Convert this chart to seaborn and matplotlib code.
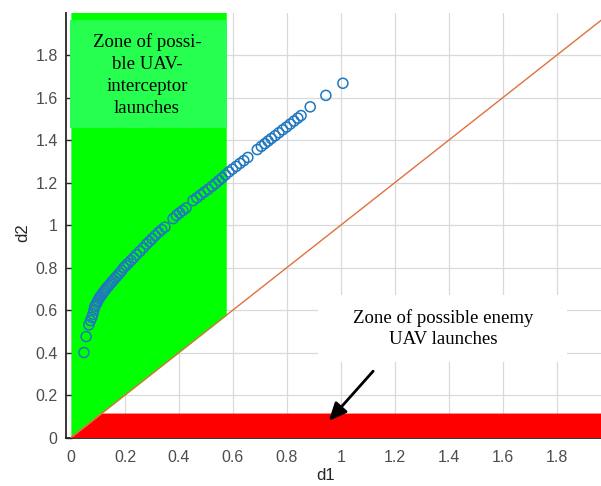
import matplotlib
matplotlib.use("Agg")
import matplotlib.pyplot as plt
from matplotlib.patches import Rectangle
import seaborn as sns
import pandas as pd

# ---- data ----
d1_pts = [0.048, 0.056, 0.066, 0.072, 0.077, 0.081, 0.085, 0.088, 0.092, 0.096,
          0.100, 0.104, 0.108, 0.113, 0.118, 0.123, 0.128, 0.134, 0.140, 0.146,
          0.152, 0.158, 0.165, 0.172, 0.180, 0.188, 0.196, 0.204, 0.212, 0.222,
          0.232, 0.242, 0.255, 0.268, 0.280, 0.290, 0.300, 0.312, 0.324, 0.336,
          0.348, 0.378, 0.390, 0.402, 0.414, 0.426, 0.452, 0.466, 0.480, 0.494,
          0.508, 0.522, 0.535, 0.548, 0.560, 0.572, 0.585, 0.598, 0.612, 0.626,
          0.640, 0.655, 0.690, 0.705, 0.718, 0.730, 0.742, 0.756, 0.770, 0.784,
          0.798, 0.812, 0.826, 0.840, 0.852, 0.886, 0.944, 1.007]
d2_pts = [0.400, 0.475, 0.530, 0.550, 0.565, 0.580, 0.600, 0.615, 0.625, 0.635,
          0.645, 0.655, 0.662, 0.670, 0.680, 0.688, 0.697, 0.706, 0.715, 0.724,
          0.733, 0.742, 0.752, 0.762, 0.774, 0.786, 0.800, 0.810, 0.820, 0.833,
          0.846, 0.860, 0.876, 0.893, 0.910, 0.922, 0.935, 0.950, 0.965, 0.978,
          0.990, 1.030, 1.045, 1.057, 1.068, 1.080, 1.115, 1.128, 1.142, 1.155,
          1.168, 1.182, 1.195, 1.210, 1.222, 1.236, 1.250, 1.263, 1.276, 1.290,
          1.303, 1.318, 1.355, 1.370, 1.383, 1.395, 1.407, 1.420, 1.434, 1.448,
          1.461, 1.475, 1.489, 1.503, 1.515, 1.556, 1.610, 1.667]

line_x = [0.0, 1.97]
line_y = [0.0, 1.97]

# interceptor zone: x range, lower bound along d2 = d1, top
green_x = [0.0, 0.575]
green_lo = [0.0, 0.575]
green_hi = [2.0, 2.0]

# enemy zone: below d2 = 0.115 and below the line
red_x = [0.0, 0.115, 1.97]
red_lo = [0.0, 0.0, 0.0]
red_hi = [0.0, 0.115, 0.115]

xticks = [0, 0.2, 0.4, 0.6, 0.8, 1.0, 1.2, 1.4, 1.6, 1.8]
xticklabels = ["0", "0.2", "0.4", "0.6", "0.8", "1", "1.2", "1.4", "1.6", "1.8"]
yticks = [0, 0.2, 0.4, 0.6, 0.8, 1.0, 1.2, 1.4, 1.6, 1.8]
yticklabels = ["0", "0.2", "0.4", "0.6", "0.8", "1", "1.2", "1.4", "1.6", "1.8"]

label_green = "Zone of possi-\nble UAV-\ninterceptor\nlaunches"
label_red = "Zone of possible enemy\nUAV launches"

# ---- plot ----
sns.set_theme(style="white")
plt.rcParams['font.family'] = ['Liberation Sans', 'DejaVu Sans']

fig = plt.figure(figsize=(6.01, 4.86), dpi=100)
ax = fig.add_axes([66/601, 1 - 437.5/486, 535/601, 425/486])

ax.set_xlim(-0.0185, 1.963)
ax.set_ylim(0, 2.0)

ax.set_xticks(xticks)
ax.set_xticklabels(xticklabels)
ax.set_yticks(yticks)
ax.set_yticklabels(yticklabels)
ax.grid(True, color="#d9d9d9", linewidth=0.9, zorder=0)
ax.set_axisbelow(True)

ax.fill_between(green_x, green_lo, green_hi, color="#00ff00", linewidth=0, zorder=2)
ax.fill_between(red_x, red_lo, red_hi, color="#ff0000", linewidth=0, zorder=3)

df_line = pd.DataFrame({"d1": line_x, "d2": line_y})
sns.lineplot(data=df_line, x="d1", y="d2", color="#e0703f", linewidth=1.0, ax=ax, zorder=4)

df_pts = pd.DataFrame({"d1": d1_pts, "d2": d2_pts})
sns.scatterplot(data=df_pts, x="d1", y="d2", marker="o", s=52, facecolors="none",
                edgecolor="#1f77c0", linewidth=1.1, ax=ax, zorder=5)

# text boxes
ax.add_patch(Rectangle((-0.004, 1.456), 0.582, 0.509, facecolor="#26ff50",
                       edgecolor="none", zorder=6))
ax.text(0.281, 1.706, label_green, ha="center", va="center", fontsize=13.5,
        family="Liberation Serif", color="black", linespacing=1.4, zorder=7)

ax.add_patch(Rectangle((0.915, 0.355), 0.922, 0.316, facecolor="white",
                       edgecolor="none", zorder=6))
ax.text(1.378, 0.512, label_red, ha="center", va="center", fontsize=13.5,
        family="Liberation Serif", color="black", linespacing=1.3, zorder=7)

ax.annotate("", xy=(0.948, 0.068), xytext=(1.126, 0.322),
            arrowprops=dict(arrowstyle="-|>,head_length=0.9,head_width=0.4",
                            color="black", lw=2.0), zorder=8)

ax.set_xlabel("d1", fontsize=12, color="#262626")
ax.set_ylabel("d2", fontsize=12, color="#262626")
ax.xaxis.set_label_coords((326 - 66) / 535, -0.072)
ax.yaxis.set_label_coords((30 - 66) / 535, (437.5 - 233) / 425)

ax.tick_params(axis="both", labelsize=11.5, labelcolor="#4d4d4d", direction="in",
               length=4, width=1.0, color="#262626", pad=6)
ax.tick_params(axis="x", length=0, pad=9)
ax.tick_params(axis="y", left=True)

for s in ["top", "right"]:
    ax.spines[s].set_visible(False)
ax.spines["left"].set_color("#262626")
ax.spines["left"].set_linewidth(1.3)
ax.spines["bottom"].set_color("#262626")
ax.spines["bottom"].set_linewidth(1.3)

fig.savefig("out.png", dpi=100)
